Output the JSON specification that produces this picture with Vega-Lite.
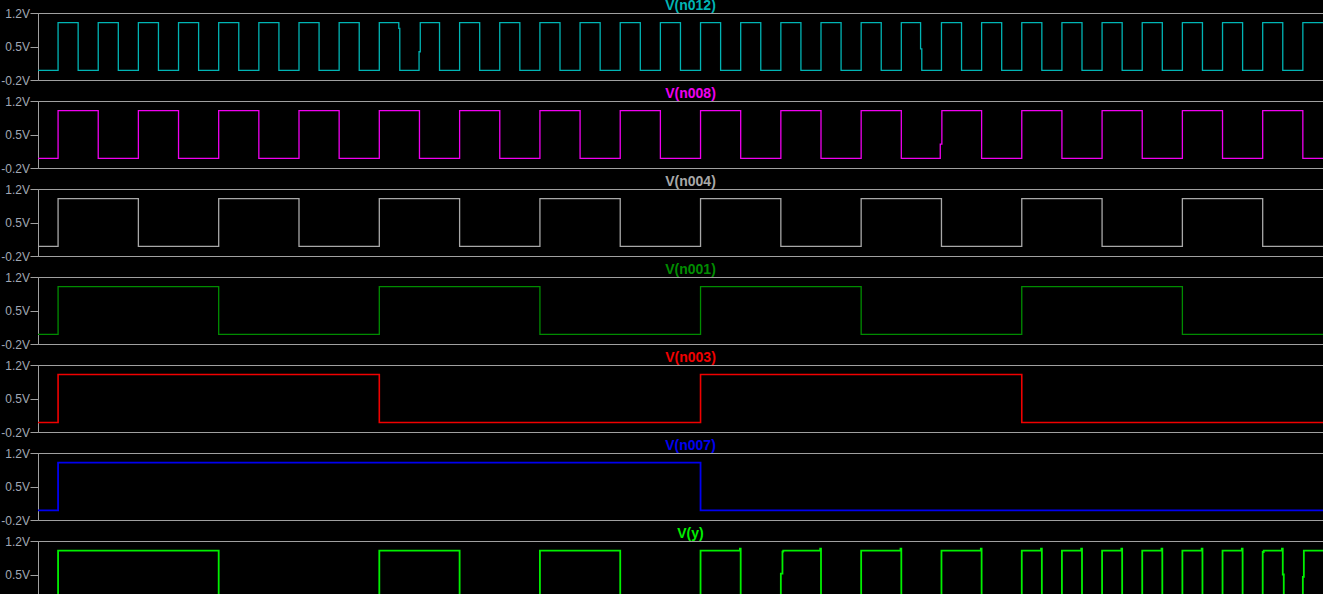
{
  "$schema": "https://vega.github.io/schema/vega-lite/v6.json",
  "background": "#000000",
  "autosize": {"type": "pad"},
  "padding": {"top": -2, "left": 0, "right": 0, "bottom": 0},
  "datasets": {
    "w": [
      {"s":"n012","t":0,"v":0},{"s":"n012","t":5,"v":1},{"s":"n012","t":10,"v":0},{"s":"n012","t":15,"v":1},{"s":"n012","t":20,"v":0},{"s":"n012","t":25,"v":1},{"s":"n012","t":30,"v":0},{"s":"n012","t":35,"v":1},{"s":"n012","t":40,"v":0},{"s":"n012","t":45,"v":1},{"s":"n012","t":50,"v":0},{"s":"n012","t":55,"v":1},{"s":"n012","t":60,"v":0},{"s":"n012","t":65,"v":1},{"s":"n012","t":70,"v":0},{"s":"n012","t":75,"v":1},{"s":"n012","t":80,"v":0},{"s":"n012","t":85,"v":1},{"s":"n012","t":89.85,"v":0.88},{"s":"n012","t":90.1,"v":0},{"s":"n012","t":94.9,"v":0.39},{"s":"n012","t":95.2,"v":1},{"s":"n012","t":100,"v":0},{"s":"n012","t":105,"v":1},{"s":"n012","t":110,"v":0},{"s":"n012","t":115,"v":1},{"s":"n012","t":120,"v":0},{"s":"n012","t":125,"v":1},{"s":"n012","t":130,"v":0},{"s":"n012","t":135,"v":1},{"s":"n012","t":140,"v":0},{"s":"n012","t":145,"v":1},{"s":"n012","t":150,"v":0},{"s":"n012","t":155,"v":1},{"s":"n012","t":160,"v":0},{"s":"n012","t":165,"v":1},{"s":"n012","t":170,"v":0},{"s":"n012","t":175,"v":1},{"s":"n012","t":180,"v":0},{"s":"n012","t":185,"v":1},{"s":"n012","t":190,"v":0},{"s":"n012","t":195,"v":1},{"s":"n012","t":200,"v":0},{"s":"n012","t":205,"v":1},{"s":"n012","t":210,"v":0},{"s":"n012","t":215,"v":1},{"s":"n012","t":219.8,"v":0.45},{"s":"n012","t":220.1,"v":0},{"s":"n012","t":225,"v":1},{"s":"n012","t":230,"v":0},{"s":"n012","t":235,"v":1},{"s":"n012","t":240,"v":0},{"s":"n012","t":245,"v":1},{"s":"n012","t":250,"v":0},{"s":"n012","t":255,"v":1},{"s":"n012","t":260,"v":0},{"s":"n012","t":265,"v":1},{"s":"n012","t":270,"v":0},{"s":"n012","t":275,"v":1},{"s":"n012","t":280,"v":0},{"s":"n012","t":285,"v":1},{"s":"n012","t":290,"v":0},{"s":"n012","t":295,"v":1},{"s":"n012","t":300,"v":0},{"s":"n012","t":305,"v":1},{"s":"n012","t":310,"v":0},{"s":"n012","t":315,"v":1},{"s":"n012","t":325,"v":1},
      {"s":"n008","t":0,"v":0},{"s":"n008","t":5,"v":1},{"s":"n008","t":15,"v":0},{"s":"n008","t":25,"v":1},{"s":"n008","t":35,"v":0},{"s":"n008","t":45,"v":1},{"s":"n008","t":55,"v":0},{"s":"n008","t":65,"v":1},{"s":"n008","t":75,"v":0},{"s":"n008","t":85,"v":1},{"s":"n008","t":95,"v":0},{"s":"n008","t":105,"v":1},{"s":"n008","t":115,"v":0},{"s":"n008","t":125,"v":1},{"s":"n008","t":135,"v":0},{"s":"n008","t":145,"v":1},{"s":"n008","t":155,"v":0},{"s":"n008","t":165,"v":1},{"s":"n008","t":175,"v":0},{"s":"n008","t":185,"v":1},{"s":"n008","t":195,"v":0},{"s":"n008","t":205,"v":1},{"s":"n008","t":215,"v":0},{"s":"n008","t":224.7,"v":0.3},{"s":"n008","t":225.1,"v":1},{"s":"n008","t":235,"v":0},{"s":"n008","t":245,"v":1},{"s":"n008","t":255,"v":0},{"s":"n008","t":265,"v":1},{"s":"n008","t":275,"v":0},{"s":"n008","t":285,"v":1},{"s":"n008","t":295,"v":0},{"s":"n008","t":305,"v":1},{"s":"n008","t":315,"v":0},{"s":"n008","t":325,"v":0},
      {"s":"n004","t":0,"v":0},{"s":"n004","t":5,"v":1},{"s":"n004","t":25,"v":0},{"s":"n004","t":45,"v":1},{"s":"n004","t":65,"v":0},{"s":"n004","t":85,"v":1},{"s":"n004","t":105,"v":0},{"s":"n004","t":125,"v":1},{"s":"n004","t":145,"v":0},{"s":"n004","t":165,"v":1},{"s":"n004","t":185,"v":0},{"s":"n004","t":205,"v":1},{"s":"n004","t":225,"v":0},{"s":"n004","t":245,"v":1},{"s":"n004","t":265,"v":0},{"s":"n004","t":285,"v":1},{"s":"n004","t":305,"v":0},{"s":"n004","t":325,"v":0},
      {"s":"n001","t":0,"v":0},{"s":"n001","t":5,"v":1},{"s":"n001","t":45,"v":0},{"s":"n001","t":85,"v":1},{"s":"n001","t":125,"v":0},{"s":"n001","t":165,"v":1},{"s":"n001","t":205,"v":0},{"s":"n001","t":245,"v":1},{"s":"n001","t":285,"v":0},{"s":"n001","t":325,"v":0},
      {"s":"n003","t":0,"v":0},{"s":"n003","t":5,"v":1},{"s":"n003","t":85,"v":0},{"s":"n003","t":165,"v":1},{"s":"n003","t":245,"v":0},{"s":"n003","t":325,"v":0},
      {"s":"n007","t":0,"v":0},{"s":"n007","t":5,"v":1},{"s":"n007","t":165,"v":0},{"s":"n007","t":325,"v":0},
      {"s":"y","t":0,"v":0},{"s":"y","t":5,"v":1},{"s":"y","t":45,"v":0},{"s":"y","t":85,"v":1},{"s":"y","t":105,"v":0},{"s":"y","t":125,"v":1},{"s":"y","t":145,"v":0},{"s":"y","t":165,"v":1},{"s":"y","t":174.8,"v":1.04},{"s":"y","t":175,"v":0},{"s":"y","t":185,"v":0.52},{"s":"y","t":185.4,"v":0.98},{"s":"y","t":185.6,"v":1},{"s":"y","t":194.8,"v":1.04},{"s":"y","t":195,"v":0},{"s":"y","t":205,"v":1},{"s":"y","t":214.8,"v":1.04},{"s":"y","t":215,"v":0},{"s":"y","t":225,"v":1},{"s":"y","t":234.8,"v":1.04},{"s":"y","t":235,"v":0},{"s":"y","t":245,"v":1},{"s":"y","t":249.8,"v":1.04},{"s":"y","t":250,"v":0},{"s":"y","t":255,"v":1},{"s":"y","t":259.8,"v":1.04},{"s":"y","t":260,"v":0},{"s":"y","t":265,"v":1},{"s":"y","t":269.8,"v":1.04},{"s":"y","t":270,"v":0},{"s":"y","t":275,"v":1},{"s":"y","t":279.8,"v":1.04},{"s":"y","t":280,"v":0},{"s":"y","t":285,"v":1},{"s":"y","t":289.8,"v":1.04},{"s":"y","t":290,"v":0},{"s":"y","t":295,"v":1},{"s":"y","t":299.8,"v":1.04},{"s":"y","t":300,"v":0},{"s":"y","t":305,"v":0.97},{"s":"y","t":305.25,"v":1},{"s":"y","t":309.8,"v":1.04},{"s":"y","t":310,"v":0.5},{"s":"y","t":310.25,"v":0},{"s":"y","t":315,"v":0.45},{"s":"y","t":315.25,"v":1},{"s":"y","t":325,"v":1}
    ]
  },
  "config": {
    "view": {"stroke": "#a0a0a0", "strokeWidth": 1},
    "title": {"font": "Liberation Sans", "fontSize": 14, "fontWeight": "bold", "anchor": "middle", "frame": "group", "baseline": "alphabetic", "offset": -5.5},
    "axisY": {
      "labelExpr": "replace(datum.label, '\u2212', '-') + 'V'",
      "grid": false,
      "domainColor": "#a0a0a0",
      "tickColor": "#a0a0a0",
      "tickSize": 8,
      "labelPadding": 0.5,
      "labelColor": "#a0a8b4",
      "labelFont": "Liberation Sans",
      "labelFontSize": 12,
      "labelFlush": false,
      "labelOverlap": false,
      "labelBaseline": "middle",
      "title": null
    }
  },
  "bounds": "flush",
  "spacing": 21,
  "vconcat": [
    {"width": 1305, "height": 67, "data": {"name": "w"}, "transform": [{"filter": "datum.s == 'n012'"}], "title": {"text": "V(n012)", "color": "#00b4b4"},
     "mark": {"type": "line", "color": "#00b4b4", "interpolate": "step-after", "strokeWidth": 1.3},
     "encoding": {"x": {"field": "t", "type": "quantitative", "scale": {"domain": [0, 325], "nice": false, "zero": false}, "axis": null},
                  "y": {"field": "v", "type": "quantitative", "scale": {"domain": [-0.2, 1.2], "nice": false, "zero": false}, "axis": {"values": [-0.2, 0.5, 1.2], "format": ".1f"}}}},
    {"width": 1305, "height": 67, "data": {"name": "w"}, "transform": [{"filter": "datum.s == 'n008'"}], "title": {"text": "V(n008)", "color": "#f000f0"},
     "mark": {"type": "line", "color": "#f000f0", "interpolate": "step-after", "strokeWidth": 1.3},
     "encoding": {"x": {"field": "t", "type": "quantitative", "scale": {"domain": [0, 325], "nice": false, "zero": false}, "axis": null},
                  "y": {"field": "v", "type": "quantitative", "scale": {"domain": [-0.2, 1.2], "nice": false, "zero": false}, "axis": {"values": [-0.2, 0.5, 1.2], "format": ".1f"}}}},
    {"width": 1305, "height": 67, "data": {"name": "w"}, "transform": [{"filter": "datum.s == 'n004'"}], "title": {"text": "V(n004)", "color": "#a8a8a8"},
     "mark": {"type": "line", "color": "#a8a8a8", "interpolate": "step-after", "strokeWidth": 1.3},
     "encoding": {"x": {"field": "t", "type": "quantitative", "scale": {"domain": [0, 325], "nice": false, "zero": false}, "axis": null},
                  "y": {"field": "v", "type": "quantitative", "scale": {"domain": [-0.2, 1.2], "nice": false, "zero": false}, "axis": {"values": [-0.2, 0.5, 1.2], "format": ".1f"}}}},
    {"width": 1305, "height": 67, "data": {"name": "w"}, "transform": [{"filter": "datum.s == 'n001'"}], "title": {"text": "V(n001)", "color": "#008c00"},
     "mark": {"type": "line", "color": "#008c00", "interpolate": "step-after", "strokeWidth": 1.3},
     "encoding": {"x": {"field": "t", "type": "quantitative", "scale": {"domain": [0, 325], "nice": false, "zero": false}, "axis": null},
                  "y": {"field": "v", "type": "quantitative", "scale": {"domain": [-0.2, 1.2], "nice": false, "zero": false}, "axis": {"values": [-0.2, 0.5, 1.2], "format": ".1f"}}}},
    {"width": 1305, "height": 67, "data": {"name": "w"}, "transform": [{"filter": "datum.s == 'n003'"}], "title": {"text": "V(n003)", "color": "#f00000"},
     "mark": {"type": "line", "color": "#f00000", "interpolate": "step-after", "strokeWidth": 1.6},
     "encoding": {"x": {"field": "t", "type": "quantitative", "scale": {"domain": [0, 325], "nice": false, "zero": false}, "axis": null},
                  "y": {"field": "v", "type": "quantitative", "scale": {"domain": [-0.2, 1.2], "nice": false, "zero": false}, "axis": {"values": [-0.2, 0.5, 1.2], "format": ".1f"}}}},
    {"width": 1305, "height": 67, "data": {"name": "w"}, "transform": [{"filter": "datum.s == 'n007'"}], "title": {"text": "V(n007)", "color": "#0000f0"},
     "mark": {"type": "line", "color": "#0000f0", "interpolate": "step-after", "strokeWidth": 1.8},
     "encoding": {"x": {"field": "t", "type": "quantitative", "scale": {"domain": [0, 325], "nice": false, "zero": false}, "axis": null},
                  "y": {"field": "v", "type": "quantitative", "scale": {"domain": [-0.2, 1.2], "nice": false, "zero": false}, "axis": {"values": [-0.2, 0.5, 1.2], "format": ".1f"}}}},
    {"width": 1305, "height": 67, "data": {"name": "w"}, "transform": [{"filter": "datum.s == 'y'"}], "title": {"text": "V(y)", "color": "#00f000"},
     "mark": {"type": "line", "color": "#00f000", "interpolate": "step-after", "strokeWidth": 1.8},
     "encoding": {"x": {"field": "t", "type": "quantitative", "scale": {"domain": [0, 325], "nice": false, "zero": false}, "axis": null},
                  "y": {"field": "v", "type": "quantitative", "scale": {"domain": [-0.2, 1.2], "nice": false, "zero": false}, "axis": {"values": [-0.2, 0.5, 1.2], "format": ".1f"}}}}
  ]
}
